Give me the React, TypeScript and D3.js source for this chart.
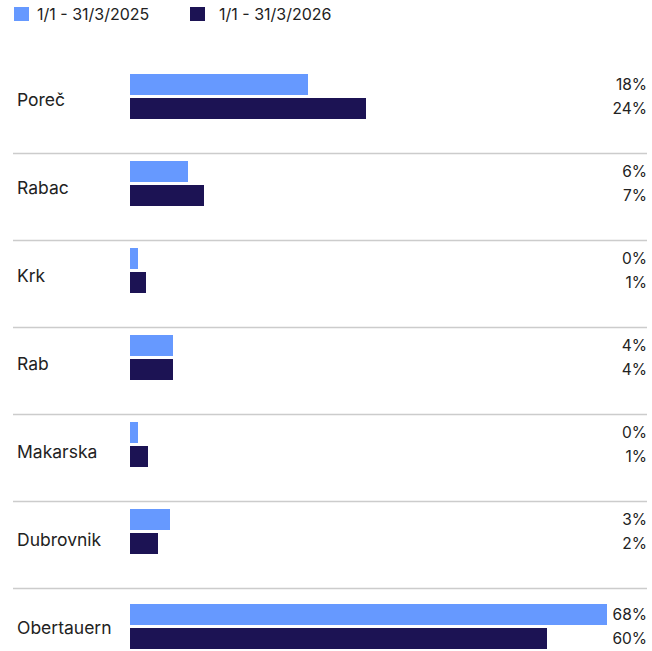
import React from "react";
import * as d3 from "d3";

const categories = ["Poreč", "Rabac", "Krk", "Rab", "Makarska", "Dubrovnik", "Obertauern"];
const series2025 = [178, 58, 8, 43, 8, 40, 477];
const series2026 = [236, 74, 16, 43, 18, 28, 417];
const labels2025 = ["18%", "6%", "0%", "4%", "0%", "3%", "68%"];
const labels2026 = ["24%", "7%", "1%", "4%", "1%", "2%", "60%"];
const seriesNames = ["1/1 - 31/3/2025", "1/1 - 31/3/2026"];
const colors = ["#6699ff", "#1c1354"];

const W = 652;
const H = 651;
const FONT = "Inter, 'Noto Sans', sans-serif";

export default function App() {
  const maxV = d3.max([...series2025, ...series2026]) as number;
  const x = d3.scaleLinear().domain([0, maxV]).range([130, 607]);
  const labelRows = d3.scalePoint<string>().domain(categories).range([100, 628]);
  const step = 87;
  const lastExtra = 8;
  const barY = (i: number) => 74 + step * i + (i === categories.length - 1 ? lastExtra : 0);
  const barH = 21;
  const barGap = 3;
  const series = [series2025, series2026];
  const labels = [labels2025, labels2026];

  return (
    <svg width={W} height={H} style={{ position: "absolute", left: 0, top: 0 }} fontFamily={FONT}>
      <g>
        <rect x={14} y={7} width={15} height={14} fill={colors[0]} />
        <text x={37} y={14.5} dy="0.35em" fontSize={16} fill="#222">{seriesNames[0]}</text>
        <rect x={190} y={7} width={15} height={14} fill={colors[1]} />
        <text x={219} y={14.5} dy="0.35em" fontSize={16} fill="#222">{seriesNames[1]}</text>
      </g>
      {categories.map((c, i) => {
        const b0 = barY(i);
        const sepY = i > 0 ? barY(i - 1) + 79.5 : 0;
        return (
          <g key={c}>
            {i > 0 && <line x1={13} x2={647} y1={sepY} y2={sepY} stroke="#cccccc" strokeWidth={1.5} />}
            <text x={17} y={labelRows(c) as number} dy="0.35em" fontSize={17.5} fill="#222">{c}</text>
            {series.map((s, k) => {
              const y = b0 + k * (barH + barGap);
              return (
                <g key={k}>
                  <rect x={x(0)} y={y} width={x(s[i]) - x(0)} height={barH} fill={colors[k]} />
                  <text x={647} y={y + barH / 2 + 0.5} dy="0.35em" textAnchor="end" fontSize={15.5} fill="#222">{labels[k][i]}</text>
                </g>
              );
            })}
          </g>
        );
      })}
    </svg>
  );
}
